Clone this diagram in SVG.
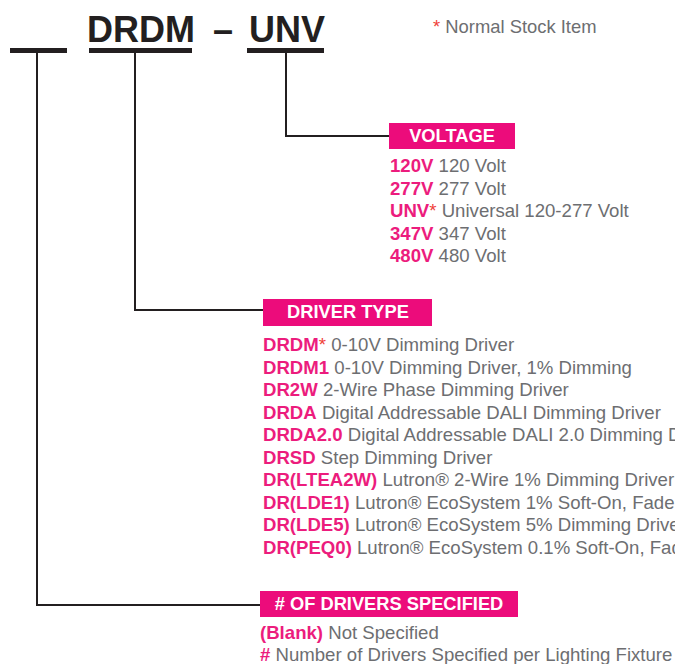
<svg xmlns="http://www.w3.org/2000/svg" width="675" height="664" viewBox="0 0 675 664">
<style>
.code{font-family:"Liberation Sans",Arial,sans-serif;font-size:36px;font-weight:bold;fill:#231f20}
.t{font-family:"Liberation Sans",Arial,sans-serif;font-size:18.6px;fill:#6d6e71}
.k{font-weight:bold;fill:#ec1c7d}
.st{fill:#ef3f3a}
.hdr{fill:#ec0c7b}
.ht{font-family:"Liberation Sans",Arial,sans-serif;font-size:18.3px;font-weight:bold;fill:#ffffff;text-anchor:middle}
.bar{fill:#231f20}
.ln{fill:none;stroke:#231f20;stroke-width:2}
</style>
<rect width="675" height="664" fill="#ffffff"/>
<g id="code">
<text class="code" x="87" y="42">DRDM</text>
<text class="code" x="213" y="42">–</text>
<text class="code" x="249" y="42">UNV</text>
<rect class="bar" x="10" y="48" width="57" height="5"/>
<rect class="bar" x="89" y="48" width="103" height="5"/>
<rect class="bar" x="247" y="48" width="77" height="5"/>
</g>
<g id="legend">
<text class="t" x="433" y="33" style="font-size:18.4px"><tspan class="st">*</tspan> Normal Stock Item</text>
</g>
<g id="connectors">
<polyline class="ln" points="37,53 37,605 260,605"/>
<polyline class="ln" points="135,53 135,310 263,310"/>
<polyline class="ln" points="286,53 286,136 389,136"/>
</g>
<g id="voltage">
<rect class="hdr" x="389" y="123" width="126" height="26"/>
<text class="ht" x="452" y="142">VOLTAGE</text>
<text class="t" x="390" y="172"><tspan class="k">120V</tspan> 120 Volt</text>
<text class="t" x="390" y="194.5"><tspan class="k">277V</tspan> 277 Volt</text>
<text class="t" x="390" y="217"><tspan class="k">UNV</tspan><tspan class="st">*</tspan> Universal 120-277 Volt</text>
<text class="t" x="390" y="239.5"><tspan class="k">347V</tspan> 347 Volt</text>
<text class="t" x="390" y="262"><tspan class="k">480V</tspan> 480 Volt</text>
</g>
<g id="driver-type">
<rect class="hdr" x="263" y="299" width="169" height="27"/>
<text class="ht" x="348" y="318">DRIVER TYPE</text>
<text class="t" x="263" y="351"><tspan class="k">DRDM</tspan><tspan class="st">*</tspan> 0-10V Dimming Driver</text>
<text class="t" x="263" y="373.5"><tspan class="k">DRDM1</tspan> 0-10V Dimming Driver, 1% Dimming</text>
<text class="t" x="263" y="396"><tspan class="k">DR2W</tspan> 2-Wire Phase Dimming Driver</text>
<text class="t" x="263" y="418.5"><tspan class="k">DRDA</tspan> Digital Addressable DALI Dimming Driver</text>
<text class="t" x="263" y="441"><tspan class="k">DRDA2.0</tspan> Digital Addressable DALI 2.0 Dimming D</text>
<text class="t" x="263" y="463.5"><tspan class="k">DRSD</tspan> Step Dimming Driver</text>
<text class="t" x="263" y="486"><tspan class="k">DR(LTEA2W)</tspan> Lutron® 2-Wire 1% Dimming Driver</text>
<text class="t" x="263" y="508.5"><tspan class="k">DR(LDE1)</tspan> Lutron® EcoSystem 1% Soft-On, Fade</text>
<text class="t" x="263" y="531"><tspan class="k">DR(LDE5)</tspan> Lutron® EcoSystem 5% Dimming Drive</text>
<text class="t" x="263" y="553.5"><tspan class="k">DR(PEQ0)</tspan> Lutron® EcoSystem 0.1% Soft-On, Fad</text>
</g>
<g id="drivers-specified">
<rect class="hdr" x="260" y="591" width="258" height="26"/>
<text class="ht" x="389" y="610">#  OF DRIVERS SPECIFIED</text>
<text class="t" x="260" y="639"><tspan class="k">(Blank)</tspan> Not Specified</text>
<text class="t" x="260" y="660.5"><tspan class="k">#</tspan> Number of Drivers Specified per Lighting Fixture</text>
</g>
</svg>
